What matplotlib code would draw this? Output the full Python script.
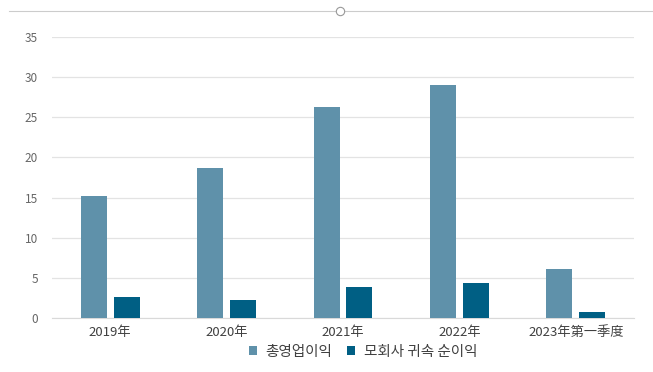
import numpy as np
import matplotlib
matplotlib.use("Agg")
import matplotlib.pyplot as plt
from matplotlib.lines import Line2D

plt.rcParams['font.family'] = ['Noto Sans CJK KR', 'DejaVu Sans']

categories = ['2019年', '2020年', '2021年', '2022年', '2023年第一季度']
total_profit = [15.2, 18.7, 26.3, 29.0, 6.1]
net_profit = [2.6, 2.3, 3.9, 4.4, 0.8]
series_names = ['총영업이익', '모회사 귀속 순이익']
y_ticks = [0, 5, 10, 15, 20, 25, 30, 35]

c1 = '#5f91aa'
c2 = '#005f84'

fig = plt.figure(figsize=(6.53, 3.72), dpi=100)
ax = fig.add_axes([52 / 653, 1 - 318 / 372, 582 / 653, 281 / 372])

x = np.arange(len(categories))
w = 0.223
gap = 0.06
ax.bar(x - (w + gap) / 2, total_profit, width=w, color=c1, label=series_names[0], zorder=3)
ax.bar(x + (w + gap) / 2, net_profit, width=w, color=c2, label=series_names[1], zorder=3)

ax.set_xlim(-0.5, len(categories) - 0.5)
ax.set_ylim(0, 35)
ax.set_yticks(y_ticks)
ax.set_xticks(x)
ax.set_xticklabels(categories, fontsize=9.5, color='#404040')
ax.tick_params(axis='y', labelsize=8.5, colors='#666666', length=0, pad=10)
ax.tick_params(axis='x', length=0, pad=6)
ax.yaxis.grid(True, color='#e3e3e3', linewidth=0.9, zorder=0)
for s in ['top', 'right', 'left']:
    ax.spines[s].set_visible(False)
ax.spines['bottom'].set_color('#d9d9d9')

# frame line at top of the chart with a small handle
fig.add_artist(Line2D([9 / 653, 1.0], [1 - 11 / 372, 1 - 11 / 372],
                      transform=fig.transFigure, color='#cccccc', linewidth=0.8))
fig.add_artist(Line2D([340 / 653], [1 - 11 / 372], transform=fig.transFigure,
                      marker='o', markersize=6, markerfacecolor='white',
                      markeredgecolor='#999999', markeredgewidth=0.8, linestyle='none'))

ax.legend(loc='center', bbox_to_anchor=(363 / 653, 1 - 352 / 372),
          bbox_transform=fig.transFigure, ncol=2, frameon=False,
          fontsize=10.5, handlelength=0.55, handleheight=0.55, handletextpad=0.6,
          columnspacing=1.0, labelcolor='#404040')

fig.savefig('out.png', dpi=100)
